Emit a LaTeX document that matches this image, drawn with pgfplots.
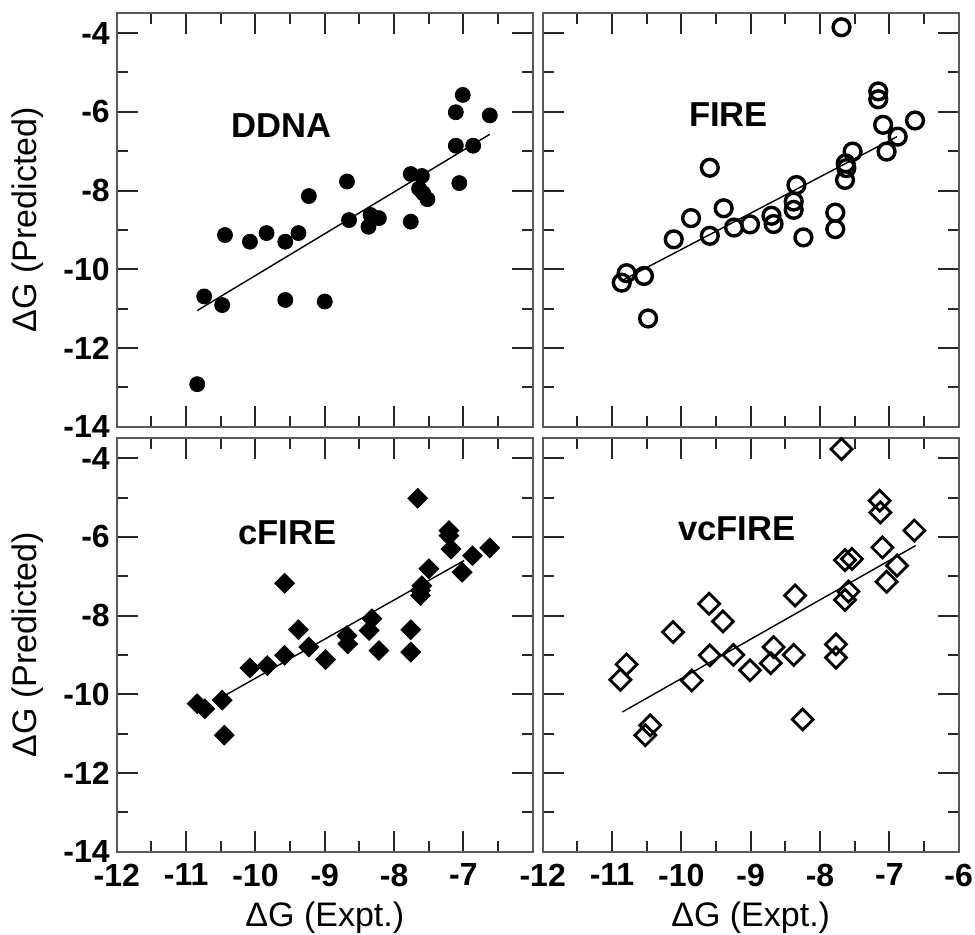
\documentclass[border=0pt]{standalone}
\usepackage{fontspec}
\setmainfont{Liberation Sans}
\usepackage{pgfplots}
\pgfplotsset{compat=1.18}
\pgfplotsset{
  panel/.style={
    scale only axis, width=208pt, height=207pt, anchor=south west,
    xmin=-12, xmax=-6, ymin=-14, ymax=-3.48,
    xtick={-12,-11,...,-6}, ytick={-14,-12,...,-4},
    minor x tick num=1, minor y tick num=1,
    tick align=inside, xtick pos=both, ytick pos=both,
    major tick length=10.5pt, minor tick length=5.5pt,
    every tick/.style={black!85, line width=1pt},
    axis line style={black!65, line width=1pt},
    ticklabel style={font=\fontsize{16}{16}\selectfont\bfseries},
    xticklabel style={yshift=-2.5pt},
    xticklabels={}, yticklabels={},
    every axis y label/.style={at={(axis description cs:-0.213,0.5)}, rotate=90, anchor=center},
    every axis x label/.style={at={(axis description cs:0.5,-0.16)}, anchor=center},
    label style={font=\fontsize{17}{17}\selectfont},
    clip=false,
  },
  fitline/.style={black, line width=0.7pt, no marks},
}
\tikzset{ttl/.style={font=\fontsize{17.3}{17.3}\selectfont\bfseries}}
\begin{document}
\begin{tikzpicture}
\useasboundingbox (0pt,0pt) rectangle (487.5pt,467.5pt);

% DDNA
\begin{axis}[panel, at={(58.4pt,254.15pt)},
  yticklabels={-14,-12,-10,-8,-6,-4}, ylabel={ΔG (Predicted)}]
\addplot[only marks, mark=*, mark size=3.75pt, black] coordinates {
 (-7.01,-5.57) (-7.11,-6.01) (-6.62,-6.09) (-7.11,-6.86) (-6.86,-6.86)
 (-7.06,-7.81) (-7.76,-7.58) (-7.60,-7.63) (-7.64,-7.95) (-7.58,-8.07)
 (-7.52,-8.22) (-7.76,-8.79) (-8.68,-7.77) (-9.23,-8.14) (-8.65,-8.75)
 (-8.34,-8.62) (-8.22,-8.70) (-8.37,-8.92) (-9.38,-9.08) (-9.84,-9.08)
 (-9.57,-9.30) (-10.08,-9.30) (-10.44,-9.13) (-10.74,-10.69) (-10.48,-10.91)
 (-9.57,-10.78) (-9.00,-10.82) (-10.84,-12.92)};
\addplot[fitline] coordinates {(-10.84,-11.05) (-6.62,-6.57)};
\node[ttl] at (axis cs:-9.62,-6.36) {DDNA};
\end{axis}

% FIRE
\begin{axis}[panel, at={(271.35pt,254.15pt)}]
\addplot[only marks, mark=o, mark size=4.2pt, black, line width=1.7pt] coordinates {
 (-7.69,-3.85) (-7.16,-5.48) (-7.16,-5.68) (-7.09,-6.33) (-6.63,-6.22)
 (-6.88,-6.63) (-7.04,-7.01) (-7.53,-7.01) (-7.63,-7.31) (-7.62,-7.43)
 (-7.64,-7.73) (-8.34,-7.86) (-8.38,-8.28) (-8.38,-8.49) (-7.78,-8.56)
 (-7.78,-8.98) (-8.24,-9.19) (-9.59,-7.42) (-9.39,-8.45) (-9.86,-8.70)
 (-9.59,-9.15) (-9.24,-8.94) (-9.01,-8.86) (-8.70,-8.64) (-8.67,-8.85)
 (-10.11,-9.24) (-10.79,-10.10) (-10.86,-10.34) (-10.54,-10.17) (-10.48,-11.25)};
\addplot[fitline] coordinates {(-10.84,-10.27) (-6.89,-6.63)};
\node[ttl] at (axis cs:-9.32,-6.08) {FIRE};
\end{axis}

% cFIRE
\begin{axis}[panel, at={(58.4pt,41.65pt)},
  yticklabels={-14,-12,-10,-8,-6,-4}, ylabel={ΔG (Predicted)},
  xticklabels={-12,-11,-10,-9,-8,-7,{}}, xlabel={ΔG (Expt.)}]
\addplot[only marks, mark=square*, mark size=3.5pt, mark options={rotate=45}, black] coordinates {
 (-7.66,-5.02) (-7.21,-5.84) (-7.21,-5.97) (-7.18,-6.31) (-6.62,-6.28)
 (-6.87,-6.48) (-7.02,-6.90) (-7.50,-6.81) (-7.60,-7.24) (-7.62,-7.49)
 (-7.62,-7.36) (-8.32,-8.08) (-8.36,-8.38) (-7.76,-8.36) (-7.76,-8.93)
 (-8.22,-8.89) (-8.68,-8.51) (-8.67,-8.72) (-9.38,-8.36) (-9.23,-8.80)
 (-9.58,-7.18) (-9.58,-9.01) (-8.99,-9.12) (-9.83,-9.27) (-10.08,-9.33)
 (-10.48,-10.15) (-10.84,-10.24) (-10.73,-10.37) (-10.45,-11.04)};
\addplot[fitline] coordinates {(-10.44,-10.03) (-6.99,-6.60)};
\node[ttl] at (axis cs:-9.54,-5.89) {cFIRE};
\end{axis}

% vcFIRE
\begin{axis}[panel, at={(271.35pt,41.65pt)},
  xticklabels={-12,-11,-10,-9,-8,-7,-6}, xlabel={ΔG (Expt.)}]
\addplot[only marks, mark=square, mark size=3.7pt, mark options={rotate=45}, black, line width=1.4pt] coordinates {
 (-7.69,-3.77) (-7.14,-5.08) (-7.13,-5.38) (-6.64,-5.84) (-7.10,-6.27)
 (-6.89,-6.73) (-7.04,-7.14) (-7.64,-6.59) (-7.54,-6.56) (-7.59,-7.39)
 (-7.64,-7.60) (-8.36,-7.49) (-7.77,-8.73) (-7.77,-9.07) (-8.38,-9.00)
 (-8.25,-10.64) (-8.67,-8.80) (-8.71,-9.21) (-9.01,-9.39) (-9.25,-9.00)
 (-9.59,-9.01) (-9.60,-7.70) (-9.40,-8.15) (-10.12,-8.42) (-9.85,-9.65)
 (-10.79,-9.24) (-10.88,-9.63) (-10.52,-11.04) (-10.45,-10.79)};
\addplot[fitline] coordinates {(-10.85,-10.45) (-6.62,-6.22)};
\node[ttl] at (axis cs:-9.20,-5.80) {vcFIRE};
\end{axis}
\end{tikzpicture}
\end{document}
